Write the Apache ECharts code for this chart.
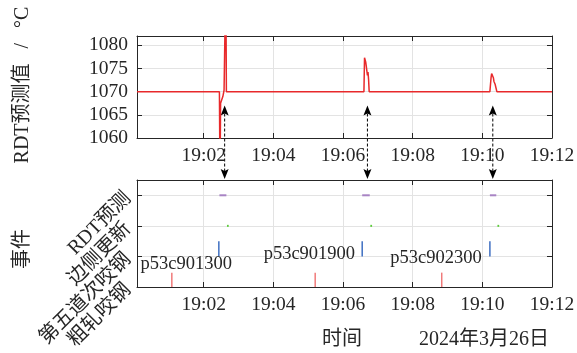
<!DOCTYPE html>
<html>
<head>
<meta charset="utf-8">
<script src="https://cdn.jsdelivr.net/npm/echarts@6/dist/echarts.min.js"></script>
<style>html,body{margin:0;padding:0;background:#fff;}</style>
</head>
<body>
<div id="main" style="width:577px;height:353px;"></div>
<script type="text/javascript">
// RDT预测值曲线
var rdtTimes = ['19:00:05', '19:02:27', '19:02:28', '19:02:29', '19:02:32', '19:02:33', '19:02:35', '19:02:37', '19:02:38', '19:02:39',
    '19:06:36', '19:06:37', '19:06:38', '19:06:39', '19:06:40', '19:06:41', '19:06:42', '19:06:43', '19:06:44', '19:06:45',
    '19:10:13', '19:10:15', '19:10:16', '19:10:17', '19:10:19', '19:10:20', '19:10:22', '19:10:24', '19:10:25', '19:12:00'];
var rdtValues = [1070, 1070, 1050, 1067.5, 1067.8, 1069, 1070.3, 1070.5, 1095, 1070,
    1070, 1077.3, 1077.2, 1076.4, 1075.5, 1075.8, 1073.5, 1074.2, 1072.6, 1070,
    1070, 1073, 1073.9, 1073.5, 1073, 1072.2, 1071.6, 1071.2, 1070, 1070];

// 事件
var eventNames = ['粗轧咬钢', '第五道次咬钢', '边侧更新', 'RDT预测'];
var roughTimes = ['19:01:05', '19:05:12', '19:08:50'];      // 粗轧咬钢
var pass5Times = ['19:02:26', '19:06:33', '19:10:13'];      // 第五道次咬钢
var edgeStart = ['19:02:40', '19:06:47', '19:10:26'];       // 边侧更新
var edgeEnd = ['19:02:43', '19:06:50', '19:10:29'];
var predStart = ['19:02:27', '19:06:33', '19:10:13'];       // RDT预测
var predEnd = ['19:02:39', '19:06:46', '19:10:24'];
var slabIds = ['p53c901300', 'p53c901900', 'p53c902300'];
var slabLabelTimes = ['19:01:30', '19:05:02', '19:08:40'];
var slabLabelLevels = [0.76, 1.06, 0.93];
var arrowTimes = ['19:02:36', '19:06:42', '19:10:18'];
var arrowTipValue = 1067;

var FONT = "'Liberation Serif','Noto Sans CJK SC',serif";
var AXC = '#262626';
var tMin = 5 / 60, tMax = 12;

function toMin(s) {
    var p = s.split(':');
    return (+p[0] - 19) * 60 + (+p[1]) + (+p[2]) / 60;
}
function fmtTime(v) {
    if (Math.abs(v - Math.round(v)) > 1e-6) return '';
    var m = Math.round(v);
    return '19:' + (m < 10 ? '0' + m : m);
}

var rdtData = rdtTimes.map(function (t, i) { return [toMin(t), rdtValues[i]]; });

function segs(t0, t1, y0, y1) {
    return t0.map(function (t, i) { return [toMin(t), toMin(t1[i]), y0, y1]; });
}

function segSeries(data, color, width) {
    return {
        type: 'custom', xAxisIndex: 2, yAxisIndex: 2, silent: true,
        data: data,
        encode: { x: [0, 1], y: [2, 3] },
        renderItem: function (params, api) {
            var p0 = api.coord([api.value(0), api.value(2)]);
            var p1 = api.coord([api.value(1), api.value(3)]);
            return {
                type: 'line',
                shape: { x1: p0[0], y1: p0[1], x2: p1[0], y2: p1[1] },
                style: { stroke: color, lineWidth: width }
            };
        }
    };
}

function xAx(grid, pos) {
    var main = pos === 'bottom';
    return {
        type: 'value', gridIndex: grid, position: pos, min: tMin, max: tMax,
        minInterval: 2, maxInterval: 2,
        axisLine: { show: true, onZero: false, lineStyle: { color: AXC, width: 1 } },
        axisTick: { show: true, inside: true, length: 5, lineStyle: { color: AXC } },
        axisLabel: { show: main, margin: 8, color: AXC, fontSize: 19.5, fontFamily: FONT, formatter: fmtTime },
        splitLine: { show: main, lineStyle: { color: '#e3e3e3' } }
    };
}
function yAx(grid, pos, min, max, interval, label) {
    var main = pos === 'left';
    return {
        type: 'value', gridIndex: grid, position: pos, min: min, max: max, interval: interval,
        axisLine: { show: true, onZero: false, lineStyle: { color: AXC, width: 1 } },
        axisTick: { show: true, inside: true, length: 5, lineStyle: { color: AXC } },
        axisLabel: Object.assign({ show: main, color: AXC, fontSize: 19.5, fontFamily: FONT }, label),
        splitLine: { show: main, lineStyle: { color: '#e3e3e3' } }
    };
}

var myChart = echarts.init(document.getElementById('main'));

var option = {
    animation: false,
    grid: [
        { left: 137, right: 25, top: 36, height: 102, outerBoundsMode: 'none' },
        { left: 137, right: 25, top: 180, height: 107, outerBoundsMode: 'none' }
    ],
    xAxis: [xAx(0, 'bottom'), xAx(0, 'top'), xAx(1, 'bottom'), xAx(1, 'top')],
    yAxis: [
        yAx(0, 'left', 1060, 1082, 5, {
            margin: 9,
            formatter: function (v) { return v % 5 === 0 ? String(v) : ''; }
        }),
        yAx(0, 'right', 1060, 1082, 5, {}),
        yAx(1, 'left', 0, 3.5, 1, {
            margin: 9, rotate: 45, fontSize: 20,
            formatter: function (v) { return v % 1 === 0 ? eventNames[v] : ''; }
        }),
        yAx(1, 'right', 0, 3.5, 1, {})
    ],
    series: [
        {
            type: 'line', xAxisIndex: 0, yAxisIndex: 0, data: rdtData,
            showSymbol: false, clip: true, silent: true,
            lineStyle: { color: '#e8292b', width: 1.5 }
        },
        segSeries(segs(roughTimes, roughTimes, 0, 0.47), '#f07a7a', 1.5),
        segSeries(segs(pass5Times, pass5Times, 1, 1.5), '#3f6fc2', 1.5),
        segSeries(segs(edgeStart, edgeEnd, 2, 2), '#5ccc3a', 2),
        segSeries(segs(predStart, predEnd, 3, 3), '#a884c4', 2),
        {
            type: 'custom', xAxisIndex: 2, yAxisIndex: 2, silent: true,
            data: slabIds.map(function (id, i) { return [toMin(slabLabelTimes[i]), slabLabelLevels[i], id]; }),
            renderItem: function (params, api) {
                var p = api.coord([api.value(0), api.value(1)]);
                return {
                    type: 'text', x: p[0], y: p[1],
                    style: {
                        text: slabIds[params.dataIndex], fill: AXC,
                        font: '18.5px ' + FONT, align: 'center', verticalAlign: 'middle'
                    }
                };
            }
        }
    ]
};

myChart.setOption(option);

// 坐标轴标题与箭头
var titleFont = '20px ' + FONT;
var graphics = [
    { type: 'text', x: 23, y: 85, rotation: Math.PI / 2,
      style: { text: 'RDT预测值   /   °C', font: titleFont, fill: AXC, align: 'center', verticalAlign: 'middle' } },
    { type: 'text', x: 23, y: 249, rotation: Math.PI / 2,
      style: { text: '事件', font: titleFont, fill: AXC, align: 'center', verticalAlign: 'middle' } },
    { type: 'text', x: 342, y: 340,
      style: { text: '时间', font: titleFont, fill: AXC, align: 'center', verticalAlign: 'middle' } },
    { type: 'text', x: 484, y: 340,
      style: { text: '2024年3月26日', font: titleFont, fill: AXC, align: 'center', verticalAlign: 'middle' } }
];
arrowTimes.forEach(function (t) {
    var top = myChart.convertToPixel({ xAxisIndex: 0, yAxisIndex: 0 }, [toMin(t), arrowTipValue]);
    var bot = myChart.convertToPixel({ xAxisIndex: 2, yAxisIndex: 2 }, [toMin(t), 3.5]);
    var x = top[0], y1 = top[1], y2 = bot[1] - 1;
    graphics.push(
        { type: 'line', shape: { x1: x, y1: y1 + 8, x2: x, y2: y2 - 8 },
          style: { stroke: '#000', lineWidth: 1, lineDash: [3, 2] } },
        { type: 'polygon', shape: { points: [[x, y1], [x - 4, y1 + 10], [x, y1 + 8], [x + 4, y1 + 10]] },
          style: { fill: '#000' } },
        { type: 'polygon', shape: { points: [[x, y2], [x - 4, y2 - 10], [x, y2 - 8], [x + 4, y2 - 10]] },
          style: { fill: '#000' } }
    );
});
myChart.setOption({ graphic: graphics });
</script>
</body>
</html>
